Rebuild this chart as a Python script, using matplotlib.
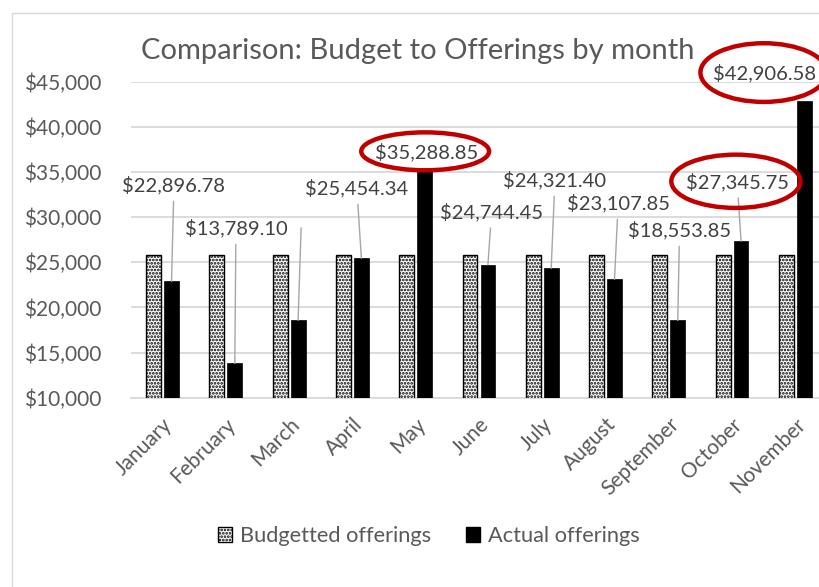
import numpy as np
import matplotlib
matplotlib.use('Agg')
import matplotlib.pyplot as plt
from matplotlib.patches import Patch, Ellipse, Rectangle
from matplotlib.transforms import ScaledTranslation

plt.rcParams['font.family'] = ['Lato', 'DejaVu Sans']
plt.rcParams['hatch.linewidth'] = 1.3

# data
months = ['January', 'February', 'March', 'April', 'May', 'June', 'July',
          'August', 'September', 'October', 'November']
budget = [25833.33] * 11
actual = [22896.78, 13789.10, 18600.00, 25454.34, 35288.85, 24744.45,
          24321.40, 23107.85, 18553.85, 27345.75, 42906.58]
label_text = ['$22,896.78', '$13,789.10', None, '$25,454.34', '$35,288.85',
              '$24,744.45', '$24,321.40', '$23,107.85', '$18,553.85',
              '$27,345.75', '$42,906.58']
circled = ['May', 'October', 'November']

# where the data labels were dragged to (x in category units, y in dollars)
label_pos = [(0.18, 33550), (1.16, 28790), (2.19, 28790), (3.07, 33220),
             (4.17, 37240), (5.2, 30600), (6.2, 34110), (7.2, 31560),
             (8.17, 28570), (9.08, 33920), (9.52, 45960)]
no_leader = ['May', 'November']
ellipse_size = {'May': (2.02, 4200), 'October': (2.04, 5900), 'November': (2.0, 6500)}

grey_txt = '#595959'
grid_c = '#d9d9d9'

fig = plt.figure(figsize=(8.2, 5.87), dpi=100)
W, H = 820, 587
ax = fig.add_axes([130.9 / W, 1 - 397.7 / H, (827 - 130.9) / W, 316 / H])

# chart border (the right / bottom edges are cut off in the screenshot)
fig.patches.append(Rectangle((12 / W, -1), 2, 1 - 13 / H + 1, transform=fig.transFigure,
                             fill=False, ec=grid_c, lw=1.0))

x = np.arange(len(months))
w = 0.235
off = 0.142
ax.bar(x - off, budget, w, bottom=0, color='white', edgecolor='black',
       hatch='.....', linewidth=1.0, zorder=3)
ax.bar(x + off, actual, w, color='black', edgecolor='black', linewidth=0.5, zorder=3)

ax.set_ylim(10000, 45000)
ax.set_xlim(-0.5, len(months) - 0.5)
ax.set_yticks(np.arange(10000, 45001, 5000))
ax.yaxis.set_major_formatter(matplotlib.ticker.FuncFormatter(lambda v, p: f'${v:,.0f}'))
ax.grid(axis='y', color=grid_c, lw=1.3, zorder=0)
ax.set_axisbelow(True)
for s in ['top', 'right', 'left']:
    ax.spines[s].set_visible(False)
ax.spines['bottom'].set_color(grid_c)
ax.spines['bottom'].set_linewidth(1.3)
ax.tick_params(length=0, labelsize=15, colors=grey_txt)
ax.tick_params(axis='y', pad=21)
ax.tick_params(axis='x', pad=17)
ax.set_xticks(x)
ax.set_xticklabels(months, rotation=45, ha='right', rotation_mode='anchor', va='center')
for lbl in ax.get_xticklabels():
    lbl.set_transform(lbl.get_transform() + ScaledTranslation(5 / 72, 0, fig.dpi_scale_trans))

# data labels with leader lines
for i, m in enumerate(months):
    lx, ly = label_pos[i]
    if label_text[i] is None:
        ax.plot([lx, i + off], [ly, actual[i]], color='#a6a6a6', lw=1.0, zorder=4)
        continue
    props = None
    if m not in no_leader:
        props = dict(arrowstyle='-', color='#a6a6a6', lw=1.0, shrinkA=3, shrinkB=0)
    ax.annotate(label_text[i], xy=(i + off, actual[i]), xytext=(lx, ly),
                textcoords='data', ha='center', va='center', fontsize=14.5,
                color='#404040', arrowprops=props, annotation_clip=False, zorder=5)
    if m in circled:
        ew, eh = ellipse_size[m]
        ax.add_patch(Ellipse((lx - 0.02, ly + 50), ew, eh, fill=False, ec='#c00000',
                             lw=3.2, clip_on=False, zorder=6))

ax.set_title('Comparison: Budget to Offerings by month', fontsize=21,
             color=grey_txt, x=(418 - 130.9) / (827 - 130.9), pad=16)

handles = [Patch(facecolor='white', edgecolor='black', hatch='.....', lw=1.0),
           Patch(facecolor='black', edgecolor='black')]
fig.legend(handles, ['Budgetted offerings', 'Actual offerings'], loc='center',
           bbox_to_anchor=(429 / W, 1 - 536 / H), ncol=2, frameon=False,
           fontsize=15.7, labelcolor=grey_txt, handlelength=0.65, handleheight=0.65,
           handletextpad=0.35, columnspacing=1.6)

fig.savefig('out.png', dpi=100)
